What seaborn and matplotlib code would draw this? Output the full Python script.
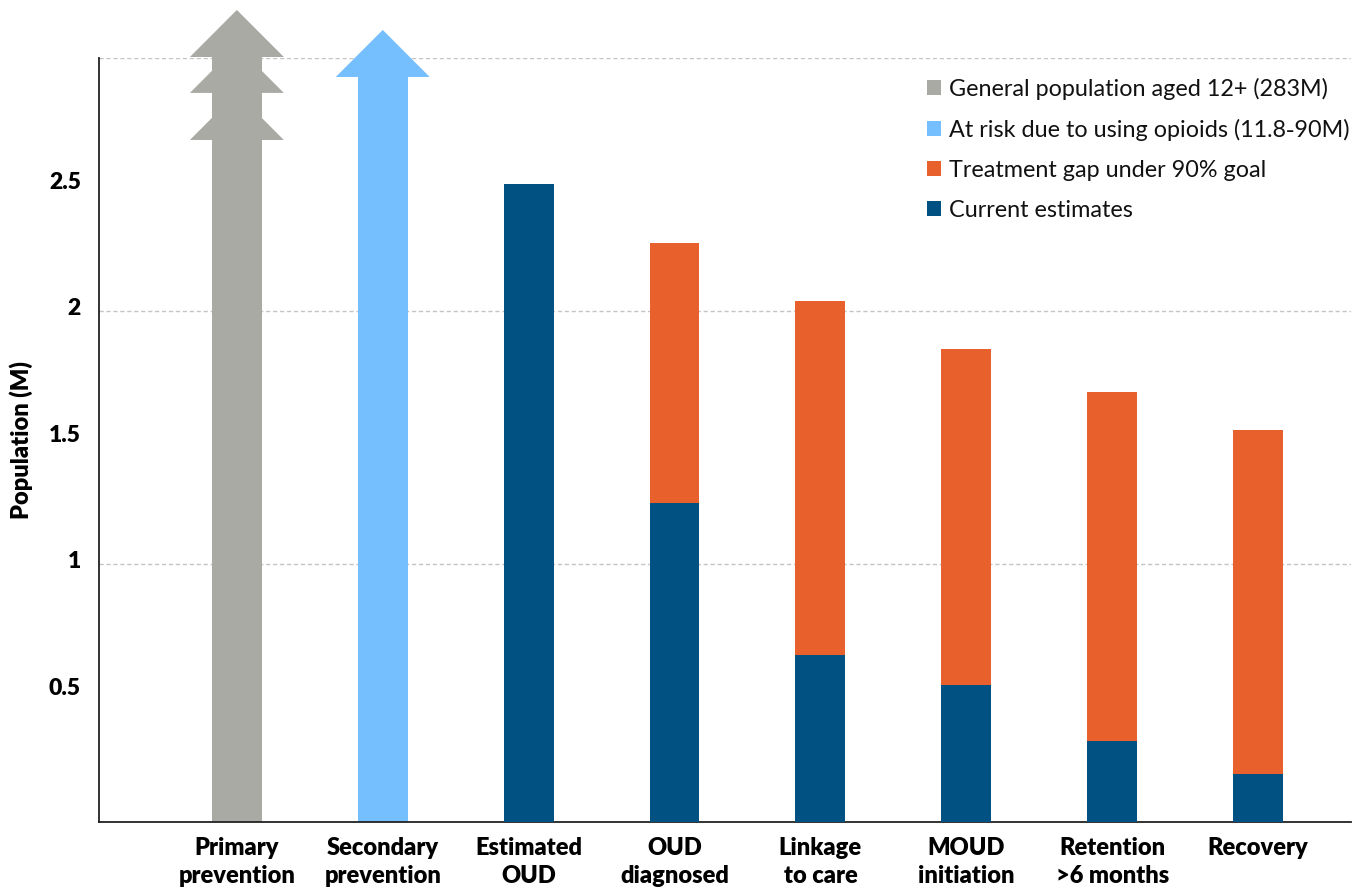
import matplotlib
matplotlib.use("Agg")
import matplotlib.pyplot as plt
import matplotlib.transforms as mtransforms
from matplotlib.patches import Polygon, Patch
import seaborn as sns

# ---- data ----
stages = ["Primary\nprevention", "Secondary\nprevention", "Estimated\nOUD",
          "OUD\ndiagnosed", "Linkage\nto care", "MOUD\ninitiation",
          "Retention\n>6 months", "Recovery"]

# stages measured against the 90% goal (population, millions)
cascade_stages = stages[2:]
current_estimates = [2.50, 1.24, 0.64, 0.52, 0.30, 0.17]
goal_90pct = [2.50, 2.27, 2.04, 1.85, 1.68, 1.53]

# off-scale prevention populations, drawn as arrows past the top of the axis
prevention_stages = stages[:2]
prevention_shaft = [3.004, 2.925]
primary_head_bases = [3.004, 2.862, 2.676]
secondary_head_bases = [2.925]

legend_labels = ["General population aged 12+ (283M)",
                 "At risk due to using opioids (11.8\u201190M)",
                 "Treatment gap under 90% goal",
                 "Current estimates"]

y_ticks = [0.5, 1, 1.5, 2, 2.5]
y_tick_labels = ["0.5", "1", "1.5", "2", "2.5"]
grid_levels = [1, 2, 3]

# ---- style ----
GREY = "#AAAAA4"
LIGHT_BLUE = "#76BFFE"
ORANGE = "#E8602C"
DARK_BLUE = "#025183"
BAR_W = 0.342
HEAD_HALF_W = 0.322
HEAD_H = 0.186
Y_FLOOR = -0.02

sns.set_theme(style="white")
plt.rcParams["font.family"] = ["Lato", "DejaVu Sans"]

fig = plt.figure(figsize=(13.61, 8.90), dpi=100)
ax = fig.add_axes([99 / 1361, 68 / 890, 1252 / 1361, 764 / 890])

# dashed horizontal guides
for lvl in grid_levels:
    ax.axhline(lvl, color="#c4c4c4", lw=1.0, ls=(0, (3, 2)), zorder=0)

# arrow shafts
sns.barplot(x=prevention_stages, y=prevention_shaft, order=stages,
            hue=prevention_stages, palette=[GREY, LIGHT_BLUE], legend=False,
            width=BAR_W, saturation=1, linewidth=0, ax=ax, zorder=2)

# 90% goal (gap) behind, current estimates in front
sns.barplot(x=cascade_stages, y=goal_90pct, order=stages, color=ORANGE,
            width=BAR_W, saturation=1, linewidth=0, ax=ax, zorder=2)
sns.barplot(x=cascade_stages, y=current_estimates, order=stages, color=DARK_BLUE,
            width=BAR_W, saturation=1, linewidth=0, ax=ax, zorder=3)

# let every bar sit on the axis line, which lies a touch below zero
for patch in ax.patches:
    top = patch.get_y() + patch.get_height()
    patch.set_y(Y_FLOOR)
    patch.set_height(top - Y_FLOOR)
    patch.set_clip_on(False)


def arrow_head(xc, base, color):
    tri = Polygon([(xc - HEAD_HALF_W, base), (xc + HEAD_HALF_W, base),
                   (xc, base + HEAD_H)], closed=True, facecolor=color,
                  edgecolor="none", lw=0, clip_on=False, zorder=4)
    ax.add_patch(tri)


for b in primary_head_bases:
    arrow_head(stages.index(prevention_stages[0]), b, GREY)
for b in secondary_head_bases:
    arrow_head(stages.index(prevention_stages[1]), b, LIGHT_BLUE)

ax.set_xlim(-0.945, 7.637)
ax.set_ylim(Y_FLOOR, 3.0)

# axes frame: left and bottom only
for side in ["top", "right"]:
    ax.spines[side].set_visible(False)
for side in ["left", "bottom"]:
    ax.spines[side].set_visible(True)
    ax.spines[side].set_color("#222222")
    ax.spines[side].set_linewidth(1.3)

ax.set_yticks(y_ticks)
ax.set_yticklabels(y_tick_labels, fontsize=16.5, fontweight="heavy", color="black")
ax.tick_params(axis="y", length=0, pad=13)
ax.tick_params(axis="x", length=0, pad=11)
ax.set_xticks(range(len(stages)))
ax.set_xticklabels(stages, fontsize=17, fontweight="heavy", color="black",
                   linespacing=1.33, va="top")
for lab in ax.get_yticklabels():
    lab.set_transform(lab.get_transform() +
                      mtransforms.ScaledTranslation(0, 4 / 100, fig.dpi_scale_trans))

ax.set_xlabel("")
ax.set_ylabel("Population (M)", fontsize=17, fontweight="heavy", color="black")
ax.yaxis.set_label_coords((33 - 99) / 1252, 0.5)

handles = [Patch(facecolor=c, edgecolor="none")
           for c in [GREY, LIGHT_BLUE, ORANGE, DARK_BLUE]]
leg = fig.legend(handles, legend_labels, loc="upper left",
                 bbox_to_anchor=(927 / 1361, 1 - 78 / 890), frameon=False,
                 fontsize=16.8, handlelength=0.6, handleheight=0.6,
                 handletextpad=0.34, labelspacing=0.81, borderpad=0,
                 borderaxespad=0)
for t in leg.get_texts():
    t.set_color("#111111")

fig.savefig("out.png", dpi=100)
